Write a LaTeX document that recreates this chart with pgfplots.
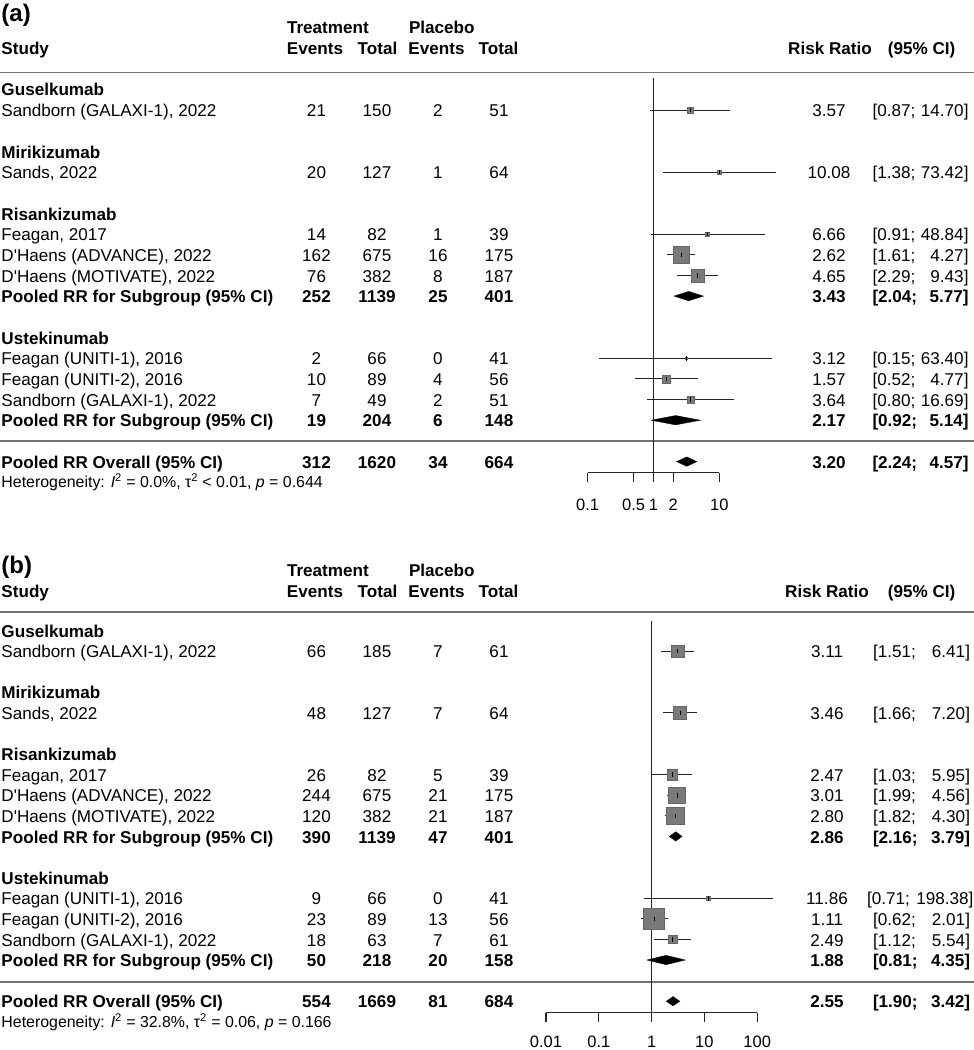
\documentclass[border=0pt]{standalone}
\usepackage{pgfplots}
\pgfplotsset{compat=1.18}
\usepackage{fontspec}
\setmainfont{Liberation Sans}[Ligatures=TeXOff]

% column centres / edges (pt = px of the reference)
\def\cTE{316.5}\def\cTT{377}\def\cPE{438}\def\cPT{499}
\def\cRR{829}\def\cL{872.5}\def\cR{968.5}

% one table row: centre y, label, counts, RR, lower, upper
\newcommand{\trow}[9]{%
  \node[anchor=base west] at (1.5,{-(#1+6.6)}) {#2};
  \node[anchor=base] at (\cTE,{-(#1+6.6)}) {#3};
  \node[anchor=base] at (\cTT,{-(#1+6.6)}) {#4};
  \node[anchor=base] at (\cPE,{-(#1+6.6)}) {#5};
  \node[anchor=base] at (\cPT,{-(#1+6.6)}) {#6};
  \node[anchor=base] at (\cRR,{-(#1+6.6)}) {#7};
  \node[anchor=base west] at (\cL,{-(#1+6.6)}) {[#8;};
  \node[anchor=base east] at (\cR,{-(#1+6.6)}) {#9]};
}
\newcommand{\btrow}[9]{\begin{scope}[every node/.append style={font=\bfseries}]
  \trow{#1}{#2}{#3}{#4}{#5}{#6}{#7}{#8}{#9}\end{scope}}
\newcommand{\grp}[2]{\node[anchor=base west, font=\bfseries] at (1.5,{-(#1+6.6)}) {#2};}

% forest plot pieces (inside an axis)
\newcommand{\study}[5]{% y, rr, lo, hi, half side of square
  \addplot[only marks, mark=square*, mark size=#5,
    mark options={fill=black!52, draw=black!60, line width=0.4pt}] coordinates {(#2,#1)};
  \addplot[black!85, line width=0.9pt] coordinates {(#3,#1) (#4,#1)};
  \addplot[only marks, mark=|, mark size=2.3pt,
    mark options={black, line width=0.5pt}] coordinates {(#2,#1)};
}
\newcommand{\pooled}[6]{% y, top, bottom, rr, lo, hi
  \addplot[fill=black, draw=black, line width=0.3pt]
    coordinates {(#5,#1) (#4,#2) (#6,#1) (#4,#3) (#5,#1)};
}

\begin{document}
\fontsize{17.1}{20}\selectfont
\begin{tikzpicture}[every node/.style={inner sep=0pt, outer sep=0pt}]
\path[use as bounding box] (0pt,0pt) rectangle (974pt,-1050pt);

\begin{scope}[x=1pt, y=1pt]
%%%%%%%%%%%%%%%%%%%% panel (a) text
\node[anchor=base west, font=\fontsize{24}{26}\selectfont\bfseries] at (1.5,-21.5) {(a)};
\begin{scope}[every node/.append style={font=\bfseries}]
\node[anchor=base west] at (287,-33.5) {Treatment};
\node[anchor=base west] at (409,-33.5) {Placebo};
\node[anchor=base west] at (1.5,-54.3) {Study};
\node[anchor=base] at (315,-54.3) {Events};
\node[anchor=base] at (377.5,-54.3) {Total};
\node[anchor=base] at (436.5,-54.3) {Events};
\node[anchor=base] at (498.5,-54.3) {Total};
\node[anchor=base] at (830,-54.3) {Risk Ratio};
\node[anchor=base] at (921.7,-54.3) {(95\% CI)};
\end{scope}
\draw[black!55, line width=1.8pt] (0,-72.5) -- (974,-72.5);
\draw[black!55, line width=1.8pt] (0,-441) -- (974,-441);

\grp{89.3}{Guselkumab}
\trow{110}{Sandborn (GALAXI-1), 2022}{21}{150}{2}{51}{3.57}{0.87}{14.70}
\grp{151.4}{Mirikizumab}
\trow{172}{Sands, 2022}{20}{127}{1}{64}{10.08}{1.38}{73.42}
\grp{213.4}{Risankizumab}
\trow{234.1}{Feagan, 2017}{14}{82}{1}{39}{6.66}{0.91}{48.84}
\trow{254.8}{D'Haens (ADVANCE), 2022}{162}{675}{16}{175}{2.62}{1.61}{4.27}
\trow{275.4}{D'Haens (MOTIVATE), 2022}{76}{382}{8}{187}{4.65}{2.29}{9.43}
\btrow{296.1}{Pooled RR for Subgroup (95\% CI)}{252}{1139}{25}{401}{3.43}{2.04}{5.77}
\grp{337.5}{Ustekinumab}
\trow{358.2}{Feagan (UNITI-1), 2016}{2}{66}{0}{41}{3.12}{0.15}{63.40}
\trow{378.8}{Feagan (UNITI-2), 2016}{10}{89}{4}{56}{1.57}{0.52}{4.77}
\trow{399.5}{Sandborn (GALAXI-1), 2022}{7}{49}{2}{51}{3.64}{0.80}{16.69}
\btrow{420.2}{Pooled RR for Subgroup (95\% CI)}{19}{204}{6}{148}{2.17}{0.92}{5.14}
\btrow{461.6}{Pooled RR Overall (95\% CI)}{312}{1620}{34}{664}{3.20}{2.24}{4.57}
\node[anchor=base west, font=\fontsize{15.9}{17}\selectfont] at (1.5,-487.3)
  {Heterogeneity: \textit{I}\textsuperscript{2} = 0.0\%, τ\textsuperscript{2} < 0.01, \textit{p} = 0.644};

%%%%%%%%%%%%%%%%%%%% panel (b) text
\def\cRR{827}\def\cL{873}\def\cR{970}
\node[anchor=base west, font=\fontsize{24}{26}\selectfont\bfseries] at (1.5,-573) {(b)};
\begin{scope}[every node/.append style={font=\bfseries}]
\node[anchor=base west] at (287,-576.5) {Treatment};
\node[anchor=base west] at (409,-576.5) {Placebo};
\node[anchor=base west] at (1.5,-597.3) {Study};
\node[anchor=base] at (315,-597.3) {Events};
\node[anchor=base] at (377.5,-597.3) {Total};
\node[anchor=base] at (436.5,-597.3) {Events};
\node[anchor=base] at (498.5,-597.3) {Total};
\node[anchor=base] at (827,-597.3) {Risk Ratio};
\node[anchor=base] at (921.7,-597.3) {(95\% CI)};
\end{scope}
\draw[black!55, line width=1.8pt] (0,-611.7) -- (974,-611.7);
\draw[black!55, line width=1.8pt] (0,-981.7) -- (974,-981.7);

\grp{630.4}{Guselkumab}
\trow{651}{Sandborn (GALAXI-1), 2022}{66}{185}{7}{61}{3.11}{1.51}{6.41}
\grp{692.2}{Mirikizumab}
\trow{712.8}{Sands, 2022}{48}{127}{7}{64}{3.46}{1.66}{7.20}
\grp{754}{Risankizumab}
\trow{774.6}{Feagan, 2017}{26}{82}{5}{39}{2.47}{1.03}{5.95}
\trow{795.2}{D'Haens (ADVANCE), 2022}{244}{675}{21}{175}{3.01}{1.99}{4.56}
\trow{815.8}{D'Haens (MOTIVATE), 2022}{120}{382}{21}{187}{2.80}{1.82}{4.30}
\btrow{836.4}{Pooled RR for Subgroup (95\% CI)}{390}{1139}{47}{401}{2.86}{2.16}{3.79}
\grp{877.6}{Ustekinumab}
{\def\cL{867}\def\cR{973.5}%
\trow{898.2}{Feagan (UNITI-1), 2016}{9}{66}{0}{41}{11.86}{0.71}{198.38}}
\trow{918.8}{Feagan (UNITI-2), 2016}{23}{89}{13}{56}{1.11}{0.62}{2.01}
\trow{939.4}{Sandborn (GALAXI-1), 2022}{18}{63}{7}{61}{2.49}{1.12}{5.54}
\btrow{960}{Pooled RR for Subgroup (95\% CI)}{50}{218}{20}{158}{1.88}{0.81}{4.35}
\btrow{1001.2}{Pooled RR Overall (95\% CI)}{554}{1669}{81}{684}{2.55}{1.90}{3.42}
\node[anchor=base west, font=\fontsize{15.9}{17}\selectfont] at (1.5,-1027.4)
  {Heterogeneity: \textit{I}\textsuperscript{2} = 32.8\%, τ\textsuperscript{2} = 0.06, \textit{p} = 0.166};
\end{scope}

%%%%%%%%%%%%%%%%%%%% panel (a) forest
\begin{axis}[at={(587.7pt,-78pt)}, anchor=north west, scale only axis,
  width=131.6pt, height=403.7pt, xmode=log, xmin=0.1, xmax=10,
  ymin=78, ymax=481.7, y dir=reverse, hide axis, clip=false]
\draw[black!85, line width=1.2pt] (axis cs:1,78) -- (axis cs:1,481.7);
\draw[black!85, line width=1.2pt] (axis cs:0.1,472.7) -- (axis cs:10,472.7);
\pgfplotsinvokeforeach{0.1,0.5,1,2,10}{
  \draw[black!85, line width=1.2pt] (axis cs:#1,472.7) -- (axis cs:#1,481.7);
  \node[anchor=base, font=\fontsize{16.5}{18}\selectfont] at (axis cs:#1,510) {#1};
}
\study{110}{3.57}{0.87}{14.70}{3}
\study{172}{10.08}{1.38}{73.42}{2}
\study{234.1}{6.66}{0.91}{48.84}{2}
\study{254.8}{2.62}{1.61}{4.27}{8.3}
\study{275.4}{4.65}{2.29}{9.43}{6.5}
\pooled{296.1}{291.4}{300.8}{3.43}{2.04}{5.77}
\study{358.2}{3.12}{0.15}{63.40}{1.3}
\study{378.8}{1.57}{0.52}{4.77}{4}
\study{399.5}{3.64}{0.80}{16.69}{3.3}
\pooled{420.2}{415.5}{424.9}{2.17}{0.92}{5.14}
\pooled{461.6}{456.9}{466.3}{3.20}{2.24}{4.57}
\end{axis}

%%%%%%%%%%%%%%%%%%%% panel (b) forest
\begin{axis}[at={(546pt,-621pt)}, anchor=north west, scale only axis,
  width=211.2pt, height=400.7pt, xmode=log, xmin=0.01, xmax=100,
  ymin=621, ymax=1021.7, y dir=reverse, hide axis, clip=false]
\draw[black!85, line width=1.2pt] (axis cs:1,621) -- (axis cs:1,1021.7);
\draw[black!85, line width=1.2pt] (axis cs:0.01,1012.7) -- (axis cs:100,1012.7);
\pgfplotsinvokeforeach{0.01,0.1,1,10,100}{
  \draw[black!85, line width=1.2pt] (axis cs:#1,1012.7) -- (axis cs:#1,1021.7);
  \node[anchor=base, font=\fontsize{16.5}{18}\selectfont] at (axis cs:#1,1047.5) {#1};
}
\study{651}{3.11}{1.51}{6.41}{6.3}
\study{712.8}{3.46}{1.66}{7.20}{6.5}
\study{774.6}{2.47}{1.03}{5.95}{5.3}
\study{795.2}{3.01}{1.99}{4.56}{8.3}
\study{815.8}{2.80}{1.82}{4.30}{8.8}
\pooled{836.4}{831.7}{841.1}{2.86}{2.16}{3.79}
\study{898.2}{11.86}{0.71}{198.38}{1.7}
\study{918.8}{1.11}{0.62}{2.01}{10.3}
\study{939.4}{2.49}{1.12}{5.54}{4.2}
\pooled{960}{955.3}{964.7}{1.88}{0.81}{4.35}
\pooled{1001.2}{996.5}{1005.9}{2.55}{1.90}{3.42}
\end{axis}
\end{tikzpicture}
\end{document}
